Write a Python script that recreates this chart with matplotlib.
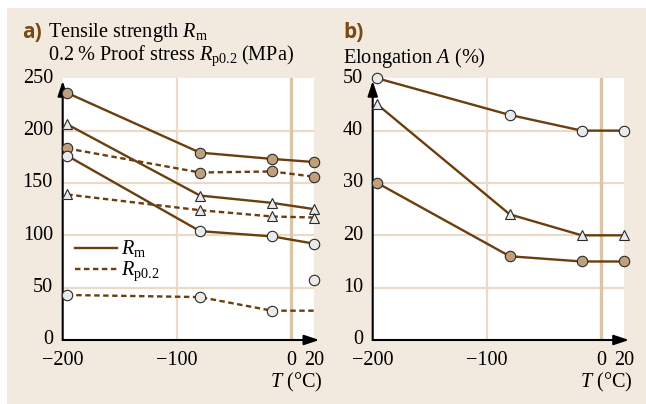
import matplotlib
matplotlib.use("Agg")
import matplotlib.pyplot as plt
from matplotlib.patches import Rectangle

plt.rcParams["font.family"] = ["Liberation Serif", "DejaVu Serif"]
plt.rcParams["mathtext.fontset"] = "custom"
plt.rcParams["mathtext.rm"] = "Liberation Serif"
plt.rcParams["mathtext.it"] = "Liberation Serif:italic"

# Test temperatures (°C)
temps = [-196, -80, -17, 20]

# a) Tensile strength Rm (solid) and proof stress Rp0.2 (dashed), MPa
rm_brown = [236, 179, 173, 170]
rp_brown = [183, 160, 161, 156]
rm_tri = [206, 138, 131, 125]
rp_tri = [139, 124, 118, 117]
rm_white = [176, 104, 99, 92]
rp_white = [43, 41, 28, 28]
lone_temp = 20
lone_value = 57

# b) Elongation A (%)
a_white = [50, 43, 40, 40]
a_tri = [45, 24, 20, 20]
a_brown = [30, 16, 15, 15]

xticks = [-200, -100, 0, 20]
xtick_labels = ["\u2212200", "\u2212100", "0", "20"]
yticks_a = [0, 50, 100, 150, 200, 250]
yticks_b = [0, 10, 20, 30, 40, 50]

BG = "#f2eadf"
GRID = "#e9dbc8"
ZERO = "#dcc5a6"
LINE = "#6b3e0e"
EDGE = "#2a2a2a"
BROWN_FILL = "#c0a07a"
WHITE_FILL = "#eaeaea"
TITLE_C = "#7a4812"
FS = 14.6

W, H = 646, 404
fig = plt.figure(figsize=(W / 100, H / 100), dpi=100, facecolor="white")
fig.patches.append(Rectangle((7 / W, 0), 1 - 7 / W, 1 - 8 / H,
                             transform=fig.transFigure, facecolor=BG,
                             edgecolor="none", zorder=-10))

ax_a = fig.add_axes([62.7 / W, 64 / H, 251.6 / W, 261.7 / H])
ax_b = fig.add_axes([372.7 / W, 64 / H, 251.3 / W, 261.7 / H])

dash = (0, (2.3, 1.5))


def style(ax, ymax, yticks, gridy):
    ax.set_facecolor("white")
    ax.set_xlim(-200, 20)
    ax.set_ylim(0, ymax)
    for s in ax.spines.values():
        s.set_visible(False)
    ax.set_xticks(xticks)
    ax.set_xticklabels(xtick_labels)
    ax.set_yticks(yticks)
    ax.tick_params(length=0, labelsize=FS)
    ax.tick_params(axis="x", pad=8)
    ax.tick_params(axis="y", pad=7)
    for lab in ax.get_yticklabels():
        lab.set_verticalalignment("center")
    for g in gridy:
        ax.axhline(g, color=GRID, lw=1.6, zorder=1)
    ax.axvline(-100, color=GRID, lw=1.6, zorder=1)
    ax.axvline(0, color=ZERO, lw=2.4, zorder=1)
    ax.annotate("", xy=(0, 0.99), xycoords="axes fraction", xytext=(0, 0),
                arrowprops=dict(arrowstyle="-|>,head_length=0.9,head_width=0.3",
                                color="black", lw=1.5, shrinkA=0, shrinkB=0,
                                mutation_scale=10), zorder=2.5)
    ax.annotate("", xy=(1.02, 0), xycoords="axes fraction", xytext=(0, 0),
                arrowprops=dict(arrowstyle="-|>,head_length=0.9,head_width=0.3",
                                color="black", lw=1.5, shrinkA=0, shrinkB=0,
                                mutation_scale=10), zorder=2.5, annotation_clip=False)


def series(ax, y, marker, fill, ls="-", markevery=None):
    ax.plot(temps, y, color=LINE, lw=1.7, ls=ls, zorder=3,
            marker=marker, ms=7.5, mfc=fill, mec=EDGE, mew=0.8,
            markevery=markevery, clip_on=False)


style(ax_a, 250, yticks_a, [50, 100, 150, 200])
style(ax_b, 50, yticks_b, [10, 20, 30, 40])

series(ax_a, rm_brown, "o", BROWN_FILL)
series(ax_a, rp_brown, "o", BROWN_FILL, ls=dash)
series(ax_a, rm_tri, "^", WHITE_FILL)
series(ax_a, rp_tri, "^", WHITE_FILL, ls=dash)
series(ax_a, rm_white, "o", WHITE_FILL)
series(ax_a, rp_white, "o", WHITE_FILL, ls=dash, markevery=[0, 1, 2])
ax_a.plot([lone_temp], [lone_value], ls="none", marker="o", ms=7.5,
          mfc=WHITE_FILL, mec=EDGE, mew=0.8, zorder=4, clip_on=False)

series(ax_b, a_white, "o", WHITE_FILL)
series(ax_b, a_tri, "^", WHITE_FILL)
series(ax_b, a_brown, "o", BROWN_FILL)

# legend
ax_a.plot([0.049, 0.216], [0.350, 0.350], transform=ax_a.transAxes,
          color=LINE, lw=1.7, zorder=3)
ax_a.plot([0.049, 0.216], [0.270, 0.270], transform=ax_a.transAxes,
          color=LINE, lw=1.7, ls=dash, zorder=3)
ax_a.text(0.232, 0.350, r"$R_\mathrm{m}$", transform=ax_a.transAxes,
          fontsize=FS, va="center", ha="left")
ax_a.text(0.232, 0.262, r"$R_\mathrm{p0.2}$", transform=ax_a.transAxes,
          fontsize=FS, va="center", ha="left")

# headings
head_font = ["Open Sans", "DejaVu Sans"]
fig.text(22 / W, 1 - 33 / H, "a)", fontsize=15, fontweight="bold",
         family=head_font, color=TITLE_C, va="center", ha="left")
fig.text(48 / W, 1 - 33 / H, r"Tensile strength $R_\mathrm{m}$",
         fontsize=FS, va="center", ha="left")
fig.text(48 / W, 1 - 56 / H, "0.2\u2009% Proof stress $R_\\mathrm{p0.2}$\u2009(MPa)",
         fontsize=FS, va="center", ha="left")
fig.text(343 / W, 1 - 33 / H, "b)", fontsize=15, fontweight="bold",
         family=head_font, color=TITLE_C, va="center", ha="left")
fig.text(343 / W, 1 - 58 / H, r"Elongation $A$ (%)",
         fontsize=FS, va="center", ha="left")

fig.text(323 / W, 1 - 382 / H, r"$T$ (°C)", fontsize=FS, va="center", ha="right")
fig.text(633 / W, 1 - 382 / H, r"$T$ (°C)", fontsize=FS, va="center", ha="right")

fig.savefig("out.png", dpi=100, facecolor="white")
